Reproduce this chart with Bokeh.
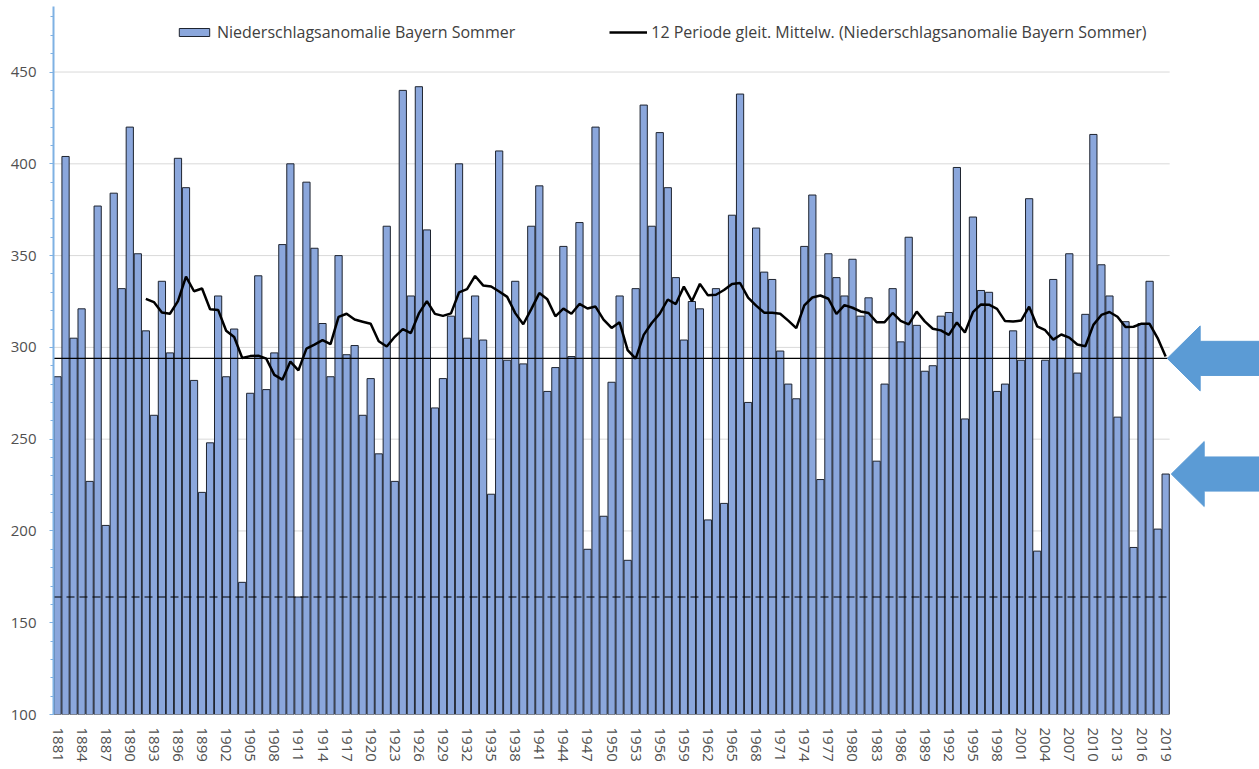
import pandas as pd
from bokeh.plotting import figure
from bokeh.models import ColumnDataSource, FixedTicker, Legend, LegendItem, Range1d
from bokeh.embed import file_html
from bokeh.resources import INLINE

# ---------------- data ----------------
years = list(range(1881, 2020))
values = [
    284, 404, 305, 321, 227, 377, 203, 384, 332, 420,   # 1881-1890
    351, 309, 263, 336, 297, 403, 387, 282, 221, 248,   # 1891-1900
    328, 284, 310, 172, 275, 339, 277, 297, 356, 400,   # 1901-1910
    164, 390, 354, 313, 284, 350, 296, 301, 263, 283,   # 1911-1920
    242, 366, 227, 440, 328, 442, 364, 267, 283, 317,   # 1921-1930
    400, 305, 328, 304, 220, 407, 293, 336, 291, 366,   # 1931-1940
    388, 276, 289, 355, 295, 368, 190, 420, 208, 281,   # 1941-1950
    328, 184, 332, 432, 366, 417, 387, 338, 304, 325,   # 1951-1960
    321, 206, 332, 215, 372, 438, 270, 365, 341, 337,   # 1961-1970
    298, 280, 272, 355, 383, 228, 351, 338, 328, 348,   # 1971-1980
    317, 327, 238, 280, 332, 303, 360, 312, 287, 290,   # 1981-1990
    317, 319, 398, 261, 371, 331, 330, 276, 280, 309,   # 1991-2000
    293, 381, 189, 293, 337, 294, 351, 286, 318, 416,   # 2001-2010
    345, 328, 262, 314, 191, 313, 336, 201, 231,        # 2011-2019
]
ma_window = 12
ref_solid = 294          # horizontal reference line (last moving-average value)
ref_dashed = 164         # dashed reference line (minimum)
y_ticks = [100, 150, 200, 250, 300, 350, 400, 450]
x_ticks = list(range(1881, 2020, 3))
bar_label = "Niederschlagsanomalie Bayern Sommer"
ma_label = "12 Periode gleit. Mittelw. (Niederschlagsanomalie Bayern Sommer)"

ma = pd.Series(values, index=years).rolling(ma_window).mean().dropna()

# ---------------- figure ----------------
FONT = "Open Sans"
W, H = 1259, 769
LEFT, TOP, BOTTOM = 53, 6, 55
frame_w = W - LEFT
x0 = years[0] - 0.5
x1 = years[-1] + 0.5
p = figure(width=W, height=H, output_backend="svg", toolbar_location=None,
           x_range=Range1d(x0, x0 + frame_w / 8.03), y_range=Range1d(100, 485.7),
           min_border_left=LEFT, min_border_right=0, min_border_top=TOP,
           min_border_bottom=BOTTOM)
p.outline_line_color = None
p.xgrid.visible = False
p.ygrid.visible = False
p.background_fill_color = "white"

# grid lines limited to the bar area
for t in y_ticks[1:]:
    p.segment(x0=x0, x1=x1, y0=t, y1=t, line_color="#D9D9D9", line_width=1)

src = ColumnDataSource(dict(year=years, value=values))
bars = p.vbar(x="year", top="value", bottom=100, width=0.9, source=src,
              fill_color="#8BA7DC", line_color="#1E2430", line_width=1)

# reference lines
p.segment(x0=x0, x1=years[-1] + 0.4, y0=ref_solid, y1=ref_solid,
          line_color="black", line_width=1.2)
p.segment(x0=x0, x1=x1, y0=ref_dashed, y1=ref_dashed,
          line_color="black", line_width=1.2, line_dash="8 5")

ma_line = p.line(list(ma.index), list(ma.values), line_color="black", line_width=2.5)

# arrows pointing at the reference line and the last bar
def arrow(tip_x, tip_y, head_len=4.1, head_half=17.7, body_half=9.3, end_x=2045):
    xs = [tip_x, tip_x + head_len, tip_x + head_len, end_x, end_x,
          tip_x + head_len, tip_x + head_len]
    ys = [tip_y, tip_y + head_half, tip_y + body_half, tip_y + body_half,
          tip_y - body_half, tip_y - body_half, tip_y - head_half]
    p.patch(xs, ys, fill_color="#5B9BD5", line_color="#5B9BD5", line_width=1)

arrow(years[-1] + 0.2, ref_solid)
arrow(years[-1] + 0.7, values[-1])

# axes
p.yaxis.ticker = FixedTicker(ticks=y_ticks, minor_ticks=list(range(100, 490, 10)))
p.yaxis.axis_line_color = "#7FB1E3"
p.yaxis.axis_line_width = 2
p.yaxis.major_tick_line_color = "#7FB1E3"
p.yaxis.minor_tick_line_color = "#7FB1E3"
p.yaxis.major_tick_in = 0
p.yaxis.major_tick_out = 4
p.yaxis.minor_tick_in = 0
p.yaxis.minor_tick_out = 3
p.yaxis.major_label_standoff = 13
p.yaxis.major_label_text_font = FONT
p.yaxis.major_label_text_font_size = "15px"
p.yaxis.major_label_text_color = "#505050"

p.xaxis.ticker = FixedTicker(ticks=x_ticks)
p.xaxis.axis_line_color = None
p.xaxis.major_tick_line_color = None
p.xaxis.minor_tick_line_color = None
p.xaxis.major_label_orientation = "vertical"
p.xaxis.major_label_standoff = 7
p.xaxis.major_label_text_font = FONT
p.xaxis.major_label_text_font_size = "15px"
p.xaxis.major_label_text_color = "#505050"

legend = Legend(items=[LegendItem(label=bar_label, renderers=[bars]),
                       LegendItem(label=ma_label, renderers=[ma_line])],
                orientation="horizontal", location=(122, 671),
                spacing=94, glyph_width=38, glyph_height=10, label_standoff=4,
                label_height=20, padding=0, margin=0, border_line_color=None,
                background_fill_alpha=0,
                label_text_font=FONT, label_text_font_size="16px",
                label_text_color="#404040")
p.add_layout(legend)

open("out.html", "w").write(file_html(p, INLINE))
